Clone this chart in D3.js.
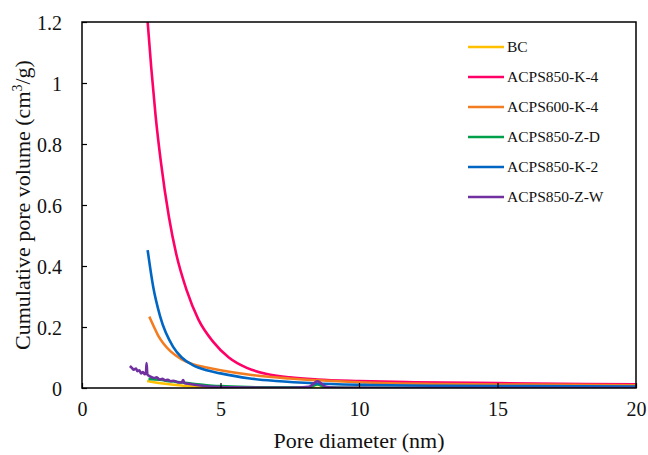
<!DOCTYPE html>
<html>
<head>
<meta charset="utf-8">
<script src="https://cdn.jsdelivr.net/npm/d3@7"></script>
<style>
  html, body { margin: 0; padding: 0; background: #fff; }
  svg { display: block; font-family: "Liberation Serif", "Times New Roman", serif; }
</style>
</head>
<body>
<svg id="chart" width="648" height="455"></svg>
<script>
// ---- data ----
const seriesNames = ["BC", "ACPS850-K-4", "ACPS600-K-4", "ACPS850-Z-D", "ACPS850-K-2", "ACPS850-Z-W"];
const seriesColors = ["#FFC000", "#FF0066", "#F47C20", "#00A04A", "#0066C4", "#7030A0"];

const bcX = [2.35, 2.6, 3.0, 3.5, 4.0, 4.5, 5, 6, 8, 20];
const bcY = [0.023, 0.019, 0.014, 0.009, 0.005, 0.002, 0.001, 0.0005, 0, 0];

const k4X = [2.37, 2.5, 2.66, 2.85, 3.14, 3.4, 3.78, 4.2, 4.73, 5.3, 5.95, 6.67, 7.5, 8.5, 10, 12, 15, 20];
const k4Y = [1.2, 1.05, 0.89, 0.74, 0.56, 0.44, 0.32, 0.225, 0.152, 0.1, 0.066, 0.046, 0.035, 0.028, 0.023, 0.019, 0.016, 0.012];

const k46X = [2.43, 2.6, 2.75, 2.94, 3.2, 3.6, 4.0, 4.5, 5, 6, 7.5, 10, 13, 16, 20];
const k46Y = [0.234, 0.2, 0.172, 0.146, 0.12, 0.094, 0.078, 0.067, 0.058, 0.044, 0.031, 0.019, 0.013, 0.011, 0.009];

const zdX = [2.4, 2.8, 3.2, 3.6, 4.0, 4.5, 5, 6, 7, 8.2, 8.5, 8.8, 9.5, 12, 20];
const zdY = [0.03, 0.027, 0.022, 0.018, 0.014, 0.009, 0.006, 0.003, 0.002, 0.002, 0.012, 0.002, 0.001, 0.0005, 0];

const k2X = [2.37, 2.57, 2.82, 3.29, 3.6, 4.0, 4.5, 5, 6, 7, 8.5, 10.4, 13, 16, 20];
const k2Y = [0.452, 0.332, 0.235, 0.135, 0.1, 0.075, 0.058, 0.048, 0.032, 0.023, 0.015, 0.01, 0.007, 0.006, 0.005];

const zwX = [1.73, 1.8, 1.87, 1.95, 2.0, 2.07, 2.13, 2.2, 2.27, 2.31, 2.33, 2.36, 2.42, 2.5, 2.6, 2.7, 2.8, 2.9, 3.0, 3.1, 3.2, 3.3, 3.45, 3.6, 3.65, 3.7, 3.9, 4.2, 4.6, 5, 5.5, 6.5, 7.5, 8.2, 8.5, 8.8, 9.2, 10, 12, 15, 20];
const zwY = [0.072, 0.066, 0.06, 0.064, 0.055, 0.058, 0.048, 0.052, 0.045, 0.05, 0.082, 0.045, 0.04, 0.036, 0.033, 0.035, 0.028, 0.03, 0.025, 0.027, 0.022, 0.024, 0.019, 0.018, 0.026, 0.016, 0.013, 0.009, 0.005, 0.003, 0.002, 0.001, 0.001, 0.004, 0.022, 0.004, 0.001, 0.0005, 0, 0, 0];

const seriesX = [bcX, k4X, k46X, zdX, k2X, zwX];
const seriesY = [bcY, k4Y, k46Y, zdY, k2Y, zwY];

const xTicks = [0, 5, 10, 15, 20];
const yTicks = [0, 0.2, 0.4, 0.6, 0.8, 1, 1.2];
const xTitle = "Pore diameter (nm)";

// ---- layout ----
const L = 82, R = 636, T = 22, B = 388;
const svg = d3.select("#chart");
const x = d3.scaleLinear().domain([0, 20]).range([L, R]);
const y = d3.scaleLinear().domain([0, 1.2]).range([B, T]);

svg.append("defs").append("clipPath").attr("id", "clip")
  .append("rect").attr("x", L).attr("y", T).attr("width", R - L).attr("height", B - T);

// series
const line = d3.line().x(d => x(d[0])).y(d => y(d[1])).curve(d3.curveMonotoneX);
const g = svg.append("g").attr("clip-path", "url(#clip)");
seriesNames.forEach((name, i) => {
  const pts = seriesX[i].map((v, j) => [v, seriesY[i][j]]);
  g.append("path").datum(pts)
    .attr("fill", "none")
    .attr("stroke", seriesColors[i])
    .attr("stroke-width", 2.6)
    .attr("stroke-linejoin", "round")
    .attr("d", line);
});

// axes (ticks inward)
const xAxis = d3.axisBottom(x).tickValues(xTicks).tickSize(-5).tickPadding(14).tickFormat(d3.format("d"));
const yAxis = d3.axisLeft(y).tickValues(yTicks).tickSize(-5).tickPadding(20).tickFormat(d => d === 0 || d === 1 ? String(d) : d3.format(".1f")(d));

const gx = svg.append("g").attr("transform", `translate(0,${B})`).call(xAxis);
const gy = svg.append("g").attr("transform", `translate(${L},0)`).call(yAxis);
[gx, gy].forEach(ax => {
  ax.select(".domain").remove();
  ax.selectAll(".tick line").attr("stroke", "#000").attr("stroke-width", 1.2);
  ax.selectAll(".tick text").attr("font-family", "Liberation Serif, Times New Roman, serif")
    .attr("font-size", 20).attr("fill", "#111");
});
gx.selectAll(".tick text").attr("dy", "0.71em");
gy.selectAll(".tick text").attr("dy", "0.35em");

// frame
svg.append("rect").attr("x", L).attr("y", T).attr("width", R - L).attr("height", B - T)
  .attr("fill", "none").attr("stroke", "#000").attr("stroke-width", 1.5);

// axis titles
svg.append("text").attr("x", (L + R) / 2).attr("y", 448)
  .attr("text-anchor", "middle").attr("font-size", 22).attr("fill", "#111")
  .text(xTitle);

const yt = svg.append("text").attr("transform", `translate(30,${(T + B) / 2}) rotate(-90)`)
  .attr("text-anchor", "middle").attr("font-size", 22).attr("fill", "#111");
yt.append("tspan").text("Cumulative pore volume (cm");
yt.append("tspan").attr("font-size", 14).attr("dy", -8).text("3");
yt.append("tspan").attr("dy", 8).text("/g)");

// legend
const lg = svg.append("g");
seriesNames.forEach((name, i) => {
  const yy = 47 + i * 30;
  lg.append("line").attr("x1", 468).attr("x2", 504).attr("y1", yy).attr("y2", yy)
    .attr("stroke", seriesColors[i]).attr("stroke-width", 2.6);
  lg.append("text").attr("x", 507).attr("y", yy).attr("dy", "0.35em")
    .attr("font-size", 15.5).attr("fill", "#111").text(name);
});
</script>
</body>
</html>
